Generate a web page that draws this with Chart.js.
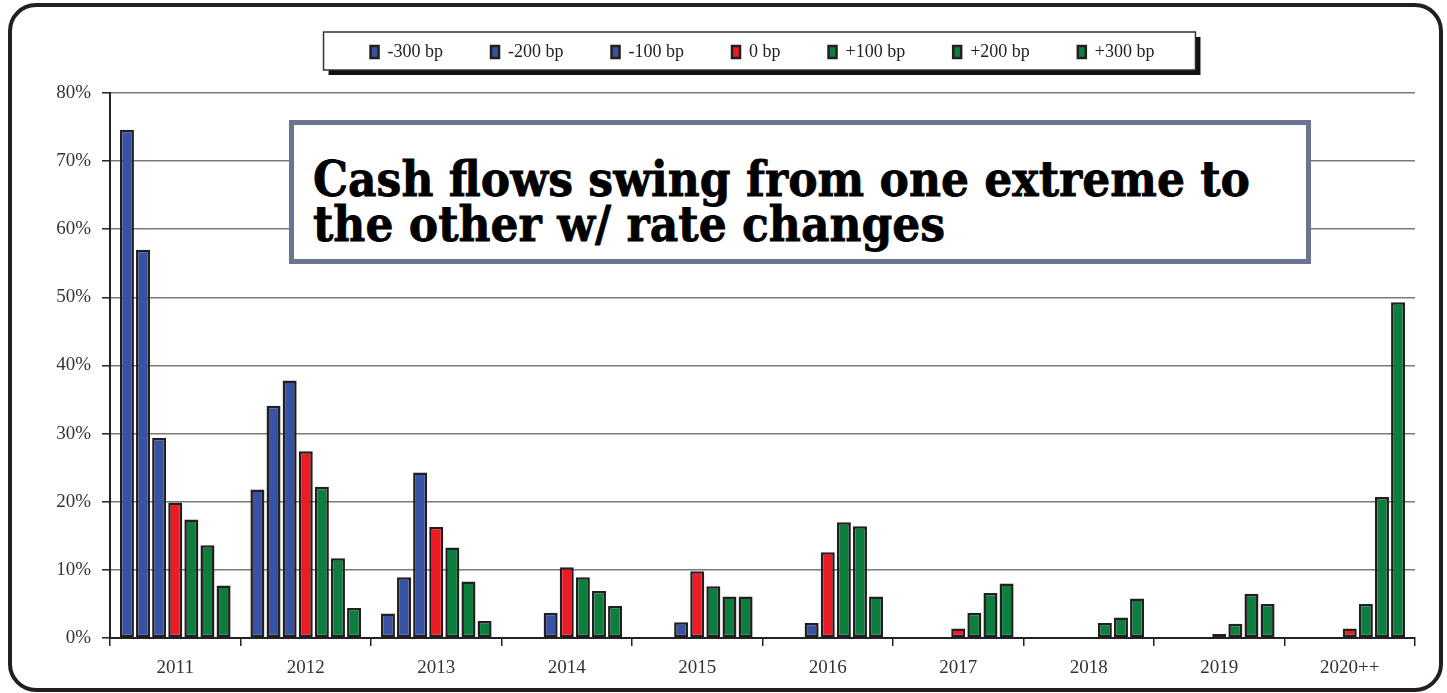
<!DOCTYPE html>
<html lang="en">
<head>
<meta charset="UTF-8">
<title>Cash flows by rate scenario</title>
<script src="https://cdn.jsdelivr.net/npm/chart.js"></script>
<style>
  html, body { margin: 0; padding: 0; background: #fff; }
  #wrap { position: relative; width: 1447px; height: 693px; overflow: hidden; }
  #frame { position: absolute; left: 8px; top: 3px; width: 1427px; height: 681px;
           border: 4px solid #231f20; border-radius: 28px; pointer-events: none; }
  #note { position: absolute; left: 289px; top: 120px; width: 1012px; height: 134px;
          border: 5px solid #6b7592; background: #fff; }
  #noteText { position: absolute; left: 19px; top: 32px; transform-origin: left top;
              font-family: "DejaVu Serif", serif; font-weight: bold; font-size: 49px;
              line-height: 45px; color: #000; white-space: nowrap;
              -webkit-text-stroke: 0.8px #000; }
</style>
</head>
<body>
<div id="wrap">
  <canvas id="myChart" width="1447" height="693"></canvas>
  <div id="note"><div id="noteText"><span id="line1">Cash flows swing from one extreme to</span><br><span>the other w/ rate changes</span></div></div>
  <div id="frame"></div>
</div>

<script>
// years on the x axis
const years = ['2011', '2012', '2013', '2014', '2015', '2016', '2017', '2018', '2019', '2020++'];

// share of cash flows per year, in %, for each rate shock
const down300 = [74.6, 21.8, 3.6, null, null, null, null, null, null, null];
const down200 = [57.0, 34.1, 8.9, 0.15, null, null, null, null, null, null];
const down100 = [29.4, 37.8, 24.3, 3.7, 2.3, 2.2, null, null, null, null];
const base0   = [19.9, 27.4, 16.3, 10.4, 9.8, 12.6, 1.4, null, 0.6, 1.4];
const up100   = [17.4, 22.2, 13.3, 8.9, 7.6, 17.0, 3.7, 2.2, 2.1, 5.0];
const up200   = [13.6, 11.7, 8.3, 6.9, 6.1, 16.4, 6.6, 3.0, 6.5, 20.7];
const up300   = [7.7, 4.4, 2.5, 4.7, 6.1, 6.1, 8.0, 5.8, 5.0, 49.3];

const BLUE = '#3953a4', RED = '#ed1c24', GREEN = '#0c7f3f', EDGE = '#231f20';
const SERIF = '"Liberation Serif", serif';

const mkSet = (label, data, color) => ({
    label: label,
    data: data,
    backgroundColor: color,
    borderColor: EDGE,
    borderWidth: 2.5,
    borderSkipped: false,
    categoryPercentage: 0.864,
    barPercentage: 0.87
});

// white box with black drop shadow round the legend items
const legendBox = {
    id: 'legendBox',
    afterInit(chart) {
        const lg = chart.legend;
        const fit = lg.fit;
        lg.fit = function () { fit.call(this); this.height = 98; };
    },
    beforeDraw(chart) {
        const ctx = chart.ctx;
        ctx.save();
        ctx.fillStyle = '#fff';
        ctx.fillRect(0, 0, chart.width, chart.height);
        const hb = chart.legend.legendHitBoxes;
        if (hb && hb.length) {
            const last = hb[hb.length - 1];
            const x = hb[0].left - 47, w = last.left + last.width + 41 - x;
            const y = 32, h = 38;
            ctx.fillStyle = '#111';
            ctx.fillRect(x + 5, y + 5, w, h);
            ctx.fillStyle = '#fff';
            ctx.fillRect(x, y, w, h);
            ctx.strokeStyle = '#333';
            ctx.lineWidth = 1.5;
            ctx.strokeRect(x, y, w, h);
        }
        ctx.restore();
    }
};

new Chart(document.getElementById('myChart'), {
    type: 'bar',
    data: {
        labels: years,
        datasets: [
            mkSet('-300 bp', down300, BLUE),
            mkSet('-200 bp', down200, BLUE),
            mkSet('-100 bp', down100, BLUE),
            mkSet('0 bp', base0, RED),
            mkSet('+100 bp', up100, GREEN),
            mkSet('+200 bp', up200, GREEN),
            mkSet('+300 bp', up300, GREEN)
        ]
    },
    options: {
        responsive: false,
        animation: false,
        layout: { padding: { top: -5, right: 32, left: 0, bottom: 0 } },
        plugins: {
            title: { display: false },
            tooltip: { enabled: false },
            legend: {
                position: 'top',
                fullSize: false,
                labels: {
                    boxWidth: 8,
                    boxHeight: 12,
                    padding: 48,
                    color: '#222',
                    font: { family: SERIF, size: 18 }
                }
            }
        },
        scales: {
            x: {
                grid: { drawOnChartArea: false, drawTicks: true, tickLength: 8, color: '#222', lineWidth: 1.5 },
                border: { display: true, color: '#222', width: 2 },
                ticks: { padding: 11, color: '#333', font: { family: SERIF, size: 19 } },
                afterFit(scale) { scale.height = 55; }
            },
            y: {
                min: 0,
                max: 80,
                grid: { color: '#7a7a7a', lineWidth: 1.6, tickLength: 8, tickColor: '#222', tickWidth: 1.5 },
                border: { display: true, color: '#222', width: 2 },
                ticks: {
                    stepSize: 10,
                    padding: 11,
                    color: '#333',
                    font: { family: SERIF, size: 19 },
                    callback: v => v + '%'
                },
                afterFit(scale) { scale.width = 110; }
            }
        }
    },
    plugins: [legendBox]
});

// squeeze the callout text to the width it has in the picture
const txt = document.getElementById('noteText');
const w = document.getElementById('line1').getBoundingClientRect().width;
txt.style.transform = 'scaleX(' + (937 / w) + ')';
</script>
</body>
</html>
